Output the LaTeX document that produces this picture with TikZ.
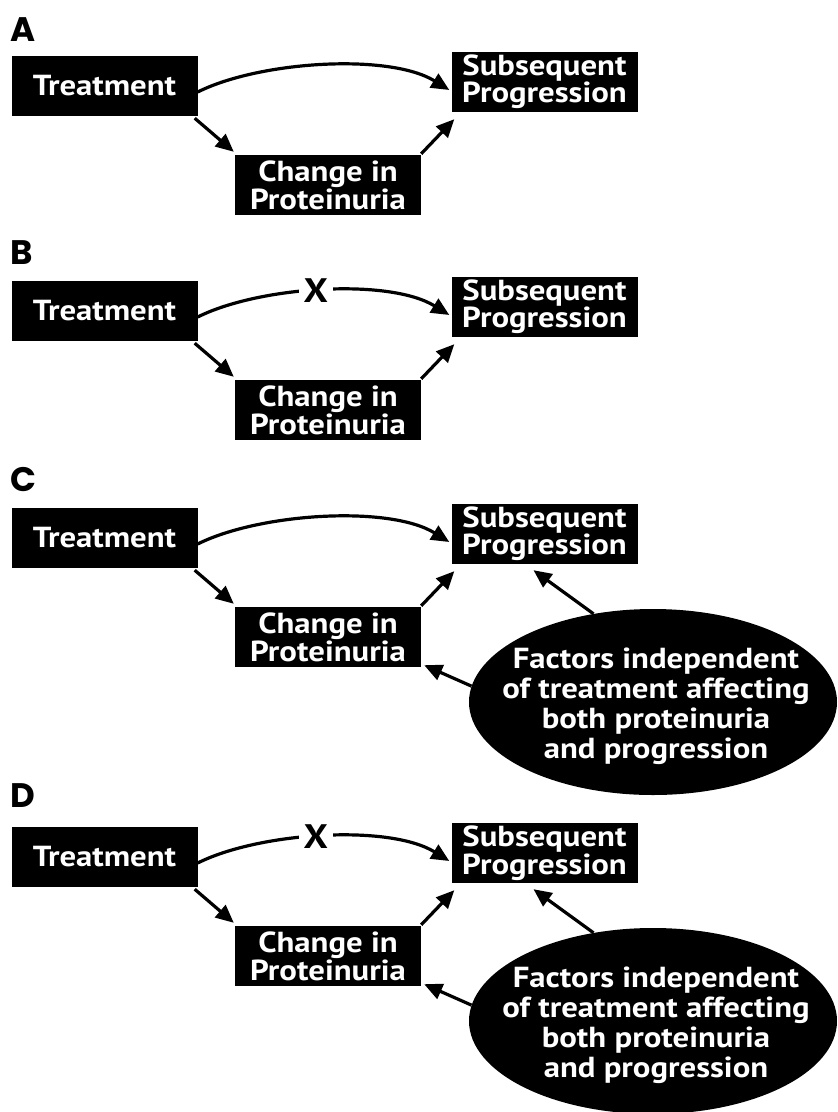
\documentclass[tikz,border=0pt]{standalone}
\usepackage{fontspec}
\setmainfont{PT Sans}
\newfontfamily\boxfont{PT Sans}[FakeStretch=1.13]
\newfontfamily\labfont{Poppins}
\usetikzlibrary{arrows.meta,shapes.geometric,calc}
\tikzset{
  box/.style={fill=black, text=white, minimum width=186pt, minimum height=60pt,
    inner sep=0pt, align=center, font=\boxfont\bfseries\fontsize{29}{25}\selectfont},
  ellbox/.style={ellipse, fill=black, minimum width=368pt, minimum height=186pt, inner sep=0pt},
  elltext/.style={text=white, inner sep=0pt, align=center, font=\boxfont\bfseries\fontsize{29}{30}\selectfont},
  arr/.style={line width=3.2pt, -{Triangle[length=18pt,width=16pt]}},
  panellab/.style={anchor=west, inner sep=0pt, font=\labfont\bfseries\fontsize{34}{34}\selectfont},
  xmark/.style={fill=white, inner xsep=5pt, inner ysep=1pt, font=\boxfont\bfseries\fontsize{34}{34}\selectfont}
}
\begin{document}
\begin{tikzpicture}[x=1pt,y=-1pt]
\useasboundingbox (0,0) rectangle (838,1112);
% ---------- Panel A ----------
\begin{scope}[shift={(0,56)}]
\node[panellab] (Alab) at (10,-26) {A};
\node[box] (AT) at (104.5,30) {Treatment};
\node[box] (AS) at (544.5,26) {Subsequent\\Progression};
\node[box] (AC) at (328,129) {Change in\\Proteinuria};
\draw[arr] ($(AT.east)+(0,6)$) .. controls +(62,-31) and ($(AS.west)+(-62,-29)$) .. ($(AS.west)+(-2,8)$);
\draw[arr] ($(AT.south east)+(-3,2)$) -- ($(AC.north west)+(-1,-3)$);
\draw[arr] ($(AC.north east)+(0,-1)$) -- ($(AS.south west)+(3,7)$);
\end{scope}
% ---------- Panel B ----------
\begin{scope}[shift={(0,281)}]
\node[panellab] (Blab) at (10,-28) {B};
\node[box] (BT) at (104.5,30) {Treatment};
\node[box] (BS) at (544.5,26) {Subsequent\\Progression};
\node[box] (BC) at (328,129) {Change in\\Proteinuria};
\draw[arr] ($(BT.east)+(0,6)$) .. controls +(62,-31) and ($(BS.west)+(-62,-29)$) .. node[pos=0.47,xmark] (BX) {X} ($(BS.west)+(-2,8)$);
\draw[arr] ($(BT.south east)+(-3,2)$) -- ($(BC.north west)+(-1,-3)$);
\draw[arr] ($(BC.north east)+(0,-1)$) -- ($(BS.south west)+(3,7)$);
\end{scope}
% ---------- Panel C ----------
\begin{scope}[shift={(0,508)}]
\node[panellab] (Clab) at (10,-28) {C};
\node[box] (CT) at (104.5,30) {Treatment};
\node[box] (CS) at (544.5,26) {Subsequent\\Progression};
\node[box] (CC) at (328,129) {Change in\\Proteinuria};
\node[ellbox] (CE) at (653,194) {};
\node[elltext] (CEt) at ($(CE.center)+(3,4)$) {Factors independent\\of treatment affecting\\both proteinuria\\and progression};
\draw[arr] ($(CT.east)+(0,6)$) .. controls +(62,-31) and ($(CS.west)+(-62,-29)$) .. ($(CS.west)+(-2,8)$);
\draw[arr] ($(CT.south east)+(-3,2)$) -- ($(CC.north west)+(-1,-3)$);
\draw[arr] ($(CC.north east)+(0,-1)$) -- ($(CS.south west)+(3,7)$);
\draw[arr] (CE.124) -- ($(CS.south)+(-11,6)$);
\draw[arr] (CE.175) -- ($(CC.south east)+(3,-2)$);
\end{scope}
% ---------- Panel D ----------
\begin{scope}[shift={(0,827)}]
\node[panellab] (Dlab) at (10,-31) {D};
\node[box] (DT) at (104.5,30) {Treatment};
\node[box] (DS) at (544.5,26) {Subsequent\\Progression};
\node[box] (DC) at (328,129) {Change in\\Proteinuria};
\node[ellbox] (DE) at (653,194) {};
\node[elltext] (DEt) at ($(DE.center)+(3,4)$) {Factors independent\\of treatment affecting\\both proteinuria\\and progression};
\draw[arr] ($(DT.east)+(0,6)$) .. controls +(62,-31) and ($(DS.west)+(-62,-29)$) .. node[pos=0.47,xmark] (DX) {X} ($(DS.west)+(-2,8)$);
\draw[arr] ($(DT.south east)+(-3,2)$) -- ($(DC.north west)+(-1,-3)$);
\draw[arr] ($(DC.north east)+(0,-1)$) -- ($(DS.south west)+(3,7)$);
\draw[arr] (DE.124) -- ($(DS.south)+(-11,6)$);
\draw[arr] (DE.175) -- ($(DC.south east)+(3,-2)$);
\end{scope}
\end{tikzpicture}
\end{document}
